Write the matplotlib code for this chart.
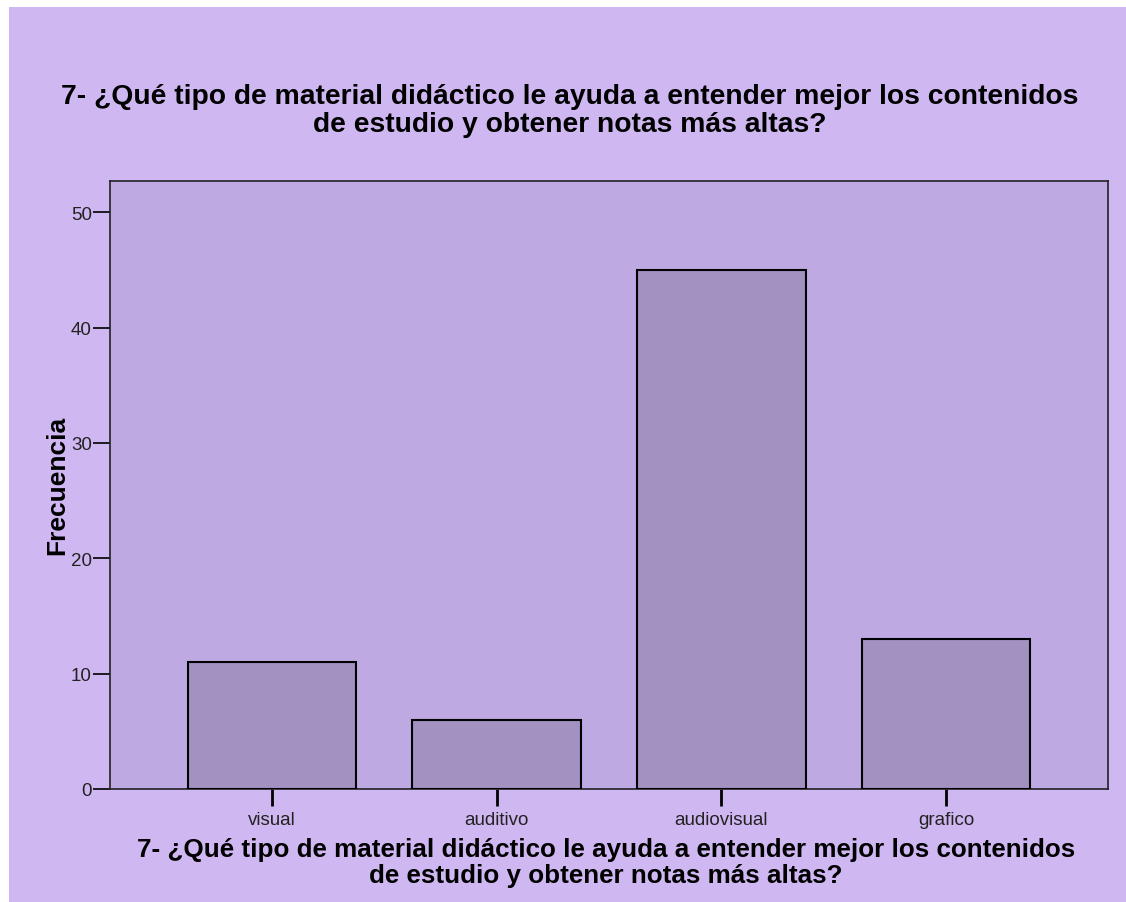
import matplotlib.pyplot as plt
from matplotlib.patches import Rectangle

categories = ["visual", "auditivo", "audiovisual", "grafico"]
frecuencia = [11, 6, 45, 13]
yticks = [0, 10, 20, 30, 40, 50]
question = ("7- ¿Qué tipo de material didáctico le ayuda a entender mejor los contenidos\n"
            "de estudio y obtener notas más altas?")

plt.rcParams["font.family"] = ["Liberation Sans", "DejaVu Sans"]

fig = plt.figure(figsize=(11.26, 9.03), dpi=100, facecolor="white")
# purple panel behind everything (thin white margin top/left like the original)
fig.patches.append(Rectangle((9 / 1126, 0), 1 - 9 / 1126, 1 - 8 / 903,
                             transform=fig.transFigure, facecolor="#CFB7F1",
                             edgecolor="none", zorder=-10))

ax = fig.add_axes([110 / 1126, 1 - 790 / 903, 998 / 1126, 608 / 903])
ax.set_facecolor("#BFA9E3")

x = list(range(len(categories)))
ax.bar(x, frecuencia, width=0.75, color="#A391C2", edgecolor="black",
       linewidth=1.5, zorder=3)

ax.set_xlim(-0.72, 3.72)
ax.set_ylim(0, 52.7)
ax.set_xticks(x)
ax.set_xticklabels(categories)
ax.set_yticks(yticks)
ax.tick_params(axis="y", labelsize=13.5, length=12, width=1.2, pad=1,
               labelcolor="#222222")
ax.tick_params(axis="x", labelsize=13.5, length=12, width=2, pad=4,
               labelcolor="#222222")
for s in ax.spines.values():
    s.set_linewidth(1.2)
    s.set_color("#222222")

# axis titles
fig.text(57 / 1126, 1 - 485 / 903, "Frecuencia", rotation=90, ha="center",
         va="center", fontsize=19, fontweight="bold")
fig.text(606 / 1126, 1 - 863 / 903, question, ha="center", va="center",
         fontsize=18.7, fontweight="bold", linespacing=1.07)

fig.text(570 / 1126, 1 - 111 / 903, question, ha="center", va="center",
         fontsize=20.3, fontweight="bold", linespacing=1.1)

fig.savefig("out.png", dpi=100, facecolor=fig.get_facecolor())
plt.close()
